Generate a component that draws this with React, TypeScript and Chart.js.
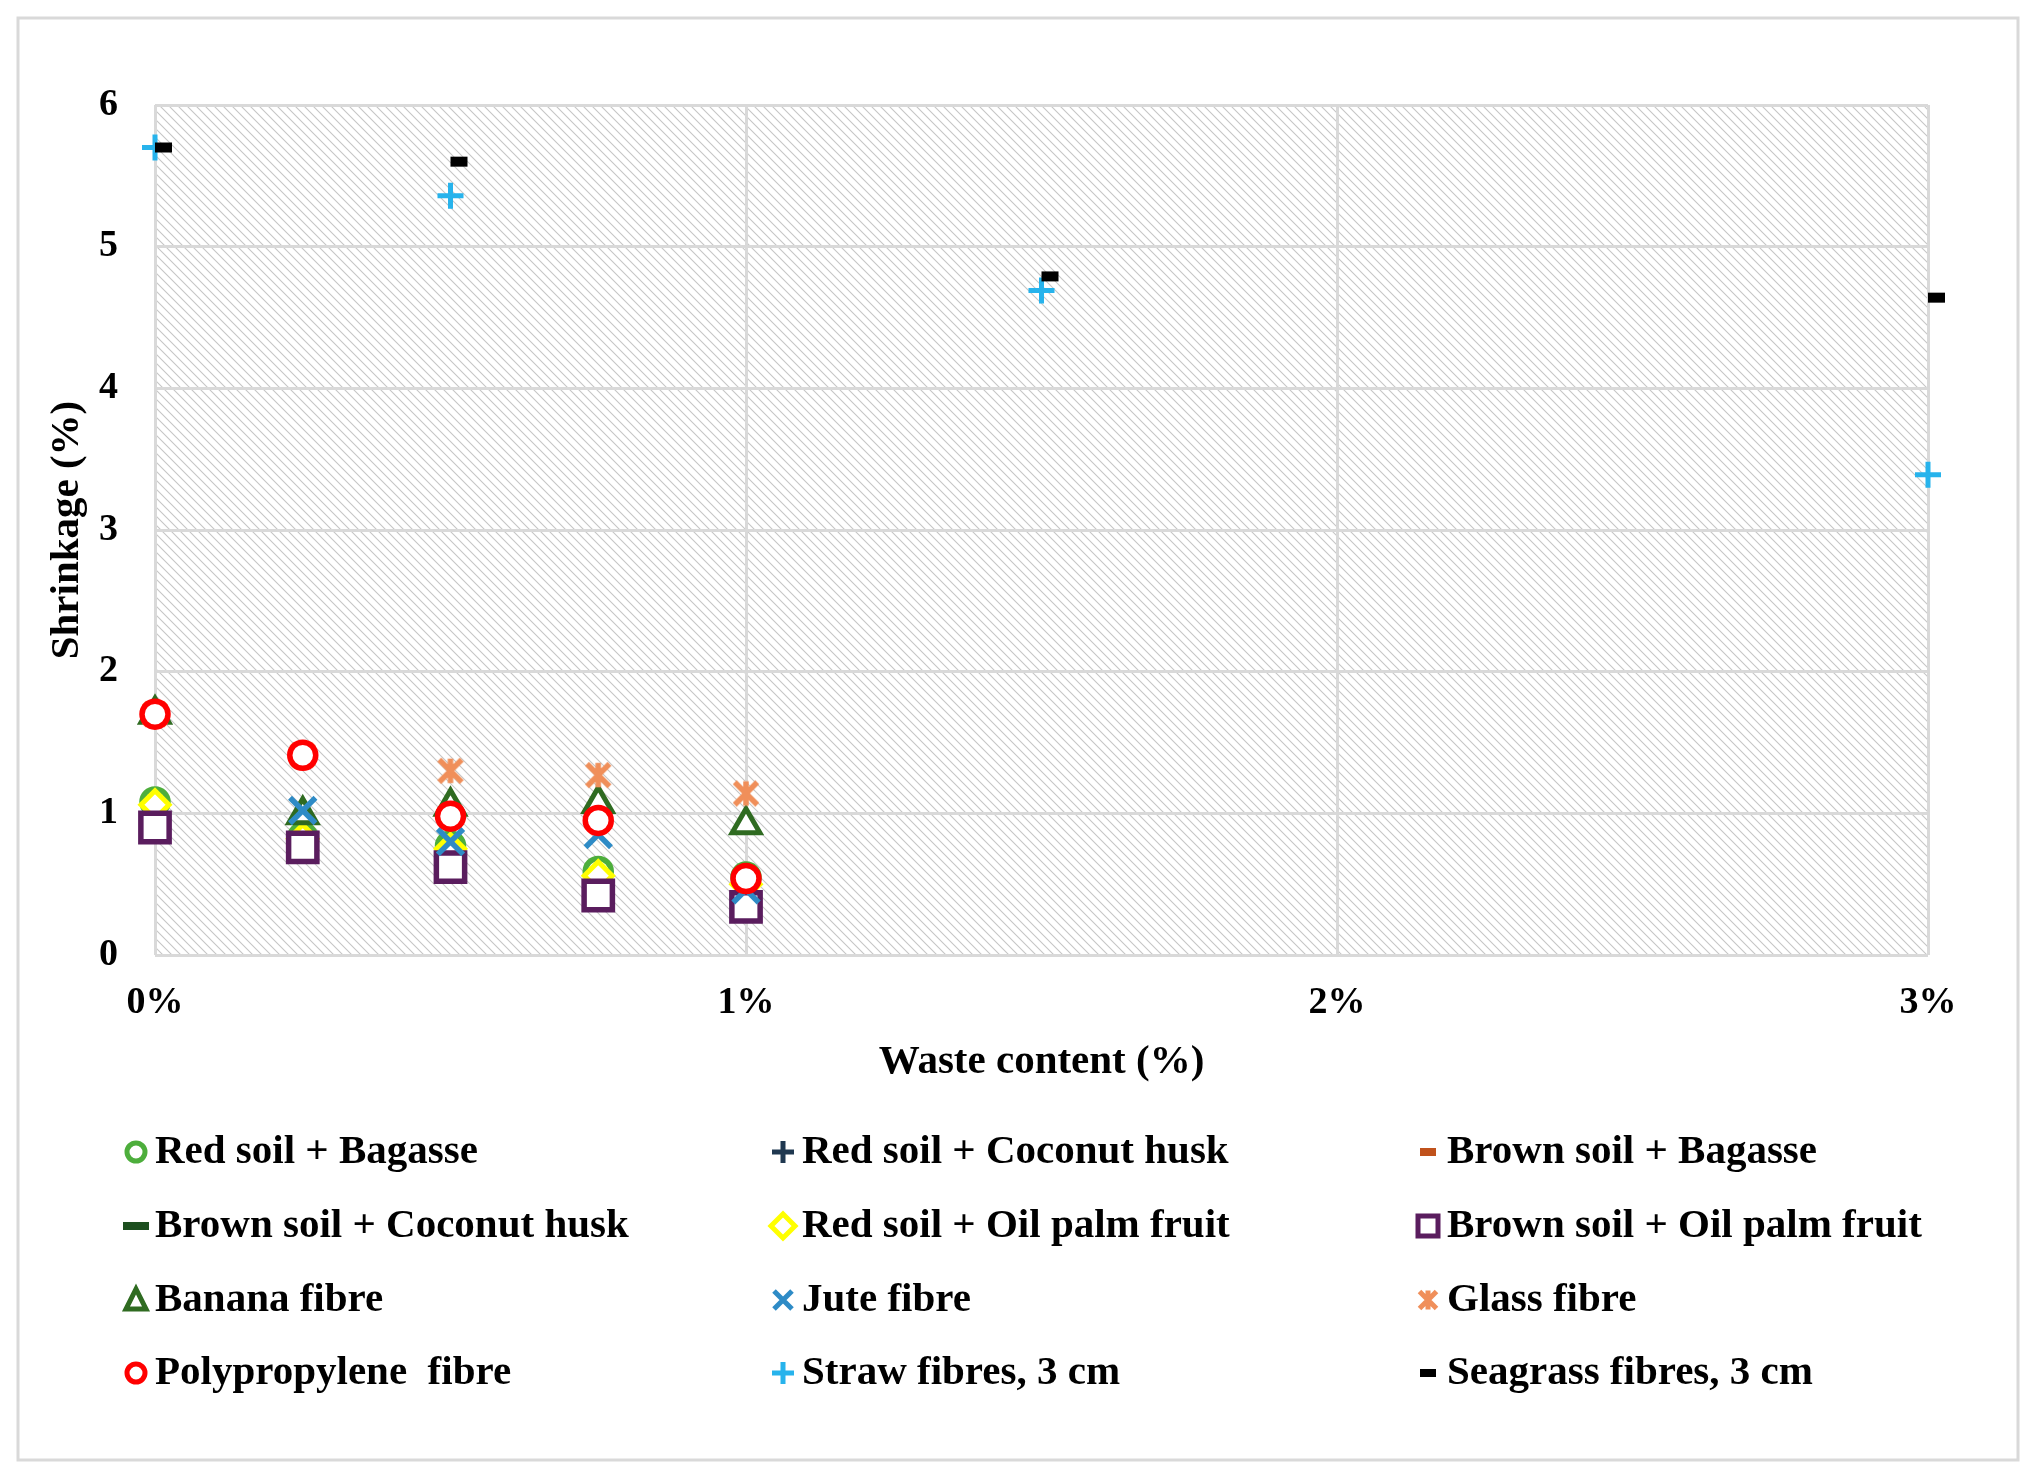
import React, { useEffect, useRef } from "react";
import { Chart, registerables, ChartConfiguration, Plugin } from "chart.js";

Chart.register(...registerables);

const FONT = "'Liberation Serif', 'Times New Roman', serif";

// x positions (waste content, %)
const lowX = [0, 0.25, 0.5, 0.75, 1];
const juteX = [0.25, 0.5, 0.75, 1];
const longFibreX = [0, 0.5, 1.5, 3];

// shrinkage values (%)
const redSoilBagasse = [1.08, 0.83, 0.77, 0.59, 0.55];
const redSoilCoconutHusk: number[] = [];
const brownSoilBagasse: number[] = [];
const brownSoilCoconutHusk: number[] = [];
const redSoilOilPalm = [1.06, 0.82, 0.75, 0.56, 0.5];
const brownSoilOilPalm = [0.9, 0.76, 0.62, 0.42, 0.34];
const bananaFibre = [1.7, 0.99, 1.05, 1.07, 0.92];
const juteFibre = [1.02, 0.8, 0.85, 0.46];
const glassFibre = [1.7, 1.41, 1.3, 1.27, 1.14];
const polypropyleneFibre = [1.7, 1.41, 0.98, 0.95, 0.54];
const strawFibres = [5.7, 5.36, 4.69, 3.39];
const seagrassFibres = [5.7, 5.6, 4.79, 4.64];

const yTicks = [0, 1, 2, 3, 4, 5, 6];
const xTicks = ["0%", "1%", "2%", "3%"];

const zip = (xs: number[], ys: number[]) => ys.map((y, i) => ({ x: xs[i], y }));

function makeAsterisk(size: number, color: string, lw: number) {
  const c = document.createElement("canvas");
  c.width = size;
  c.height = size;
  const g = c.getContext("2d")!;
  const m = size / 2;
  const p = lw / 2 + 1;
  g.strokeStyle = color;
  g.lineWidth = lw;
  g.beginPath();
  g.moveTo(m, p);
  g.lineTo(m, size - p);
  g.moveTo(p + 1, p + 1);
  g.lineTo(size - p - 1, size - p - 1);
  g.moveTo(size - p - 1, p + 1);
  g.lineTo(p + 1, size - p - 1);
  g.stroke();
  return c;
}

type Marker = { style: string; color: string };

function drawLegendMarker(ctx: CanvasRenderingContext2D, m: Marker, x: number, y: number, img?: HTMLCanvasElement) {
  ctx.save();
  ctx.strokeStyle = m.color;
  ctx.fillStyle = "#fff";
  ctx.lineWidth = 5;
  ctx.beginPath();
  const s = 10;
  switch (m.style) {
    case "circle":
      ctx.arc(x, y, s - 1, 0, Math.PI * 2);
      ctx.fill();
      ctx.stroke();
      break;
    case "cross":
      ctx.moveTo(x - s - 1, y);
      ctx.lineTo(x + s + 1, y);
      ctx.moveTo(x, y - s - 1);
      ctx.lineTo(x, y + s + 1);
      ctx.stroke();
      break;
    case "crossRot":
      ctx.moveTo(x - s + 1, y - s + 1);
      ctx.lineTo(x + s - 1, y + s - 1);
      ctx.moveTo(x + s - 1, y - s + 1);
      ctx.lineTo(x - s + 1, y + s - 1);
      ctx.stroke();
      break;
    case "dash":
      ctx.fillStyle = m.color;
      ctx.fillRect(x - 8, y - 4, 16, 8);
      break;
    case "dashWide":
      ctx.fillStyle = m.color;
      ctx.fillRect(x - 13, y - 4, 26, 8);
      break;
    case "rectRot":
      ctx.moveTo(x, y - s - 2);
      ctx.lineTo(x + s + 2, y);
      ctx.lineTo(x, y + s + 2);
      ctx.lineTo(x - s - 2, y);
      ctx.closePath();
      ctx.fill();
      ctx.stroke();
      break;
    case "rect":
      ctx.rect(x - s, y - s, 2 * s, 2 * s);
      ctx.fill();
      ctx.stroke();
      break;
    case "triangle":
      ctx.moveTo(x, y - s - 1);
      ctx.lineTo(x + s, y + s - 1);
      ctx.lineTo(x - s, y + s - 1);
      ctx.closePath();
      ctx.fill();
      ctx.stroke();
      break;
    case "asterisk":
      if (img) ctx.drawImage(img, x - 13, y - 13, 26, 26);
      break;
  }
  ctx.restore();
}

const App: React.FC = () => {
  const chartRef = useRef<HTMLCanvasElement>(null);
  const chartInstance = useRef<Chart | null>(null);

  useEffect(() => {
    if (!chartRef.current) return;
    if (chartInstance.current) chartInstance.current.destroy();

    const asterisk = makeAsterisk(32, "#f08f5a", 5.5);
    const asteriskSmall = makeAsterisk(26, "#f08f5a", 5);

    const series = [
      { label: "Red soil + Bagasse", data: zip(lowX, redSoilBagasse), color: "#4dae3c", style: "circle", legend: "circle", radius: 13, bw: 5.5 },
      { label: "Red soil + Coconut husk", data: zip(lowX, redSoilCoconutHusk), color: "#1f3850", style: "cross", legend: "cross", radius: 13, bw: 5 },
      { label: "Brown soil + Bagasse", data: zip(lowX, brownSoilBagasse), color: "#c0521c", style: "dash", legend: "dash", radius: 17, bw: 10 },
      { label: "Brown soil + Coconut husk", data: zip(lowX, brownSoilCoconutHusk), color: "#1d4f1f", style: "dash", legend: "dashWide", radius: 17, bw: 10 },
      { label: "Red soil + Oil palm fruit", data: zip(lowX, redSoilOilPalm), color: "#ffff00", style: "rectRot", legend: "rectRot", radius: 14, bw: 5 },
      { label: "Brown soil + Oil palm fruit", data: zip(lowX, brownSoilOilPalm), color: "#5a1d5e", style: "rect", legend: "rect", radius: 20, bw: 5.5 },
      { label: "Banana fibre", data: zip(lowX, bananaFibre), color: "#2f6b21", style: "triangle", legend: "triangle", radius: 16, bw: 5 },
      { label: "Jute fibre", data: zip(juteX, juteFibre), color: "#2e8bc6", style: "crossRot", legend: "crossRot", radius: 18, bw: 5.5 },
      { label: "Glass fibre", data: zip(lowX, glassFibre), color: "#f08f5a", style: "asterisk", legend: "asterisk", radius: 15, bw: 5 },
      { label: "Polypropylene  fibre", data: zip(lowX, polypropyleneFibre), color: "#ff0000", style: "circle", legend: "circle", radius: 13, bw: 5.5 },
      { label: "Straw fibres, 3 cm", data: zip(longFibreX, strawFibres), color: "#27b3ec", style: "cross", legend: "cross", radius: 13, bw: 5 },
      { label: "Seagrass fibres, 3 cm", data: zip(longFibreX, seagrassFibres), color: "#000000", style: "dash", legend: "dash", radius: 17, bw: 10 },
    ];

    const backdrop: Plugin = {
      id: "backdrop",
      beforeDraw(chart) {
        const { ctx, chartArea } = chart;
        ctx.save();
        ctx.fillStyle = "#fff";
        ctx.fillRect(0, 0, chart.width, chart.height);
        const tile = document.createElement("canvas");
        const t = 9;
        tile.width = t;
        tile.height = t;
        const g = tile.getContext("2d")!;
        g.strokeStyle = "#c6c6c6";
        g.lineWidth = 1.1;
        g.beginPath();
        g.moveTo(-1, -1);
        g.lineTo(t + 1, t + 1);
        g.moveTo(t - 1, -1);
        g.lineTo(t + 1, 1);
        g.moveTo(-1, t - 1);
        g.lineTo(1, t + 1);
        g.stroke();
        const pat = ctx.createPattern(tile, "repeat");
        if (pat) {
          ctx.fillStyle = pat;
          ctx.fillRect(chartArea.left, chartArea.top, chartArea.right - chartArea.left, chartArea.bottom - chartArea.top);
        }
        ctx.strokeStyle = "#d9d9d9";
        ctx.lineWidth = 3;
        ctx.strokeRect(18, 18, 2000, 1442);
        ctx.restore();
      },
    };

    const legendCols = [136, 783, 1428];
    const legendRows = [1152, 1226, 1300, 1373];
    const gridLegend: Plugin = {
      id: "gridLegend",
      afterDraw(chart) {
        const { ctx } = chart;
        ctx.save();
        ctx.font = `bold 41px ${FONT}`;
        ctx.textBaseline = "middle";
        ctx.textAlign = "left";
        series.forEach((s, i) => {
          const x = legendCols[i % 3];
          const y = legendRows[Math.floor(i / 3)];
          drawLegendMarker(ctx, { style: s.legend, color: s.color }, x, y, asteriskSmall);
          ctx.fillStyle = "#000";
          ctx.fillText(s.label, x + 19, y);
        });
        ctx.restore();
      },
    };

    const config: ChartConfiguration<"scatter"> = {
      type: "scatter",
      data: {
        datasets: series.map((s, i) => ({
          label: s.label,
          data: s.data,
          borderColor: s.color,
          backgroundColor: "#ffffff",
          pointStyle: (s.style === "asterisk" ? asterisk : s.style) as any,
          pointRadius: s.radius,
          pointHoverRadius: s.radius,
          pointBorderWidth: s.bw,
          pointHoverBorderWidth: s.bw,
          showLine: false,
          clip: false as any,
          order: series.length - 1 - i,
        })),
      },
      options: {
        responsive: true,
        maintainAspectRatio: false,
        animation: false,
        events: [],
        layout: { padding: { left: 0, top: 105, right: 107, bottom: 386 } },
        plugins: {
          legend: { display: false },
          tooltip: { enabled: false },
        },
        scales: {
          x: {
            type: "linear",
            min: 0,
            max: 3,
            afterFit: (scale) => {
              scale.height = 132;
            },
            afterBuildTicks: (scale) => {
              scale.ticks = xTicks.map((_, i) => ({ value: i }));
            },
            ticks: {
              callback: (_v, i) => xTicks[i],
              font: { family: FONT, size: 38, weight: "bold" },
              color: "#000",
              padding: 25,
              maxRotation: 0,
            },
            grid: { color: "#d9d9d9", lineWidth: 3, drawTicks: false },
            border: { display: false },
            title: {
              display: true,
              text: "Waste content (%)",
              font: { family: FONT, size: 41, weight: "bold" },
              color: "#000",
              padding: { top: 0, bottom: 0 },
            },
          },
          y: {
            min: 0,
            max: 6,
            afterFit: (scale) => {
              scale.width = 155;
            },
            afterBuildTicks: (scale) => {
              scale.ticks = yTicks.map((v) => ({ value: v }));
            },
            ticks: {
              font: { family: FONT, size: 38, weight: "bold" },
              color: "#000",
              padding: 37,
            },
            grid: { color: "#d9d9d9", lineWidth: 3, drawTicks: false },
            border: { display: false },
            title: {
              display: true,
              text: "Shrinkage (%)",
              font: { family: FONT, size: 41, weight: "bold" },
              color: "#000",
              padding: { top: 43, bottom: 0 },
            },
          },
        },
      },
      plugins: [backdrop, gridLegend],
    };

    chartInstance.current = new Chart(chartRef.current, config);

    return () => {
      if (chartInstance.current) {
        chartInstance.current.destroy();
        chartInstance.current = null;
      }
    };
  }, []);

  return (
    <div style={{ position: "fixed", left: 0, top: 0, width: 2035, height: 1473, background: "#fff" }}>
      <canvas ref={chartRef} />
    </div>
  );
};

export default App;
